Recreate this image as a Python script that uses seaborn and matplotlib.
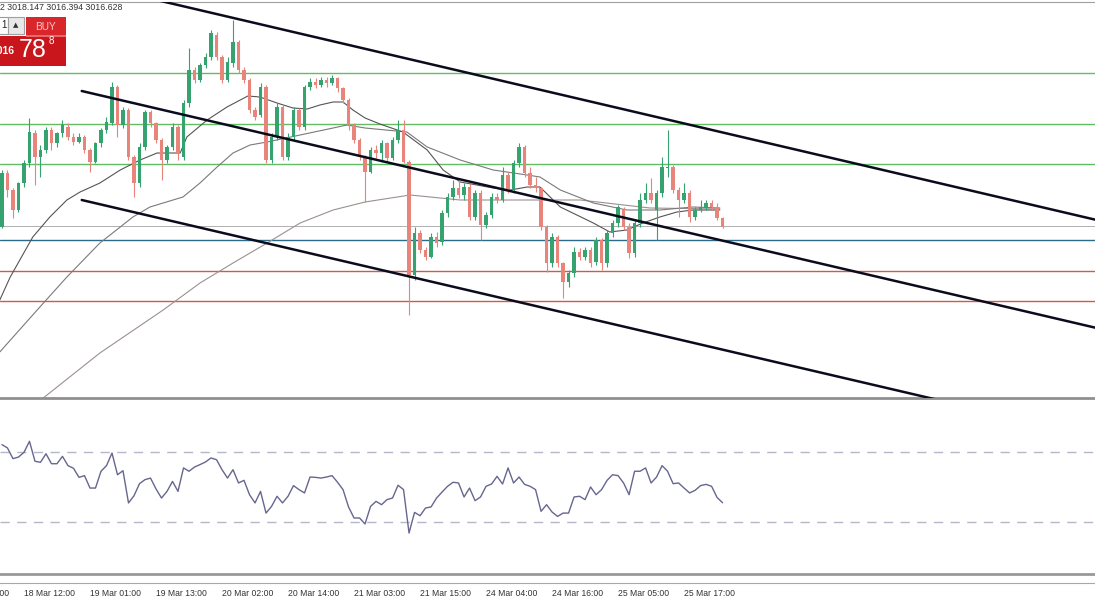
import matplotlib
matplotlib.use('Agg')
import matplotlib.pyplot as plt
import matplotlib.transforms as mtransforms
from matplotlib.patches import Rectangle
import numpy as np
import seaborn as sns

sns.set_style('white')
plt.rcParams['font.family'] = ['Liberation Sans', 'DejaVu Sans']

# H1 candles, plotted on bar index like the terminal does
opens = [3016.5, 3021.9, 3020.2, 3018.2, 3020.9, 3022.9, 3025.9, 3023.5, 3024.2, 3026.2,
         3024.9, 3025.9, 3026.5, 3025.5, 3025.0, 3025.5, 3024.2, 3023.0, 3024.9, 3026.2,
         3026.9, 3030.5, 3026.7, 3028.2, 3023.5, 3020.9, 3024.5, 3028.0, 3026.9, 3025.2,
         3023.2, 3024.5, 3026.5, 3023.5, 3028.9, 3032.2, 3031.2, 3032.7, 3033.5, 3035.7,
         3033.5, 3031.2, 3032.9, 3035.0, 3032.2, 3031.2, 3028.2, 3027.7, 3030.5, 3023.2,
         3025.5, 3028.5, 3023.5, 3025.5, 3028.2, 3026.5, 3030.5, 3031.0, 3030.7, 3031.2,
         3030.9, 3031.4, 3030.4, 3029.2, 3026.7, 3025.2, 3023.5, 3022.0, 3024.2, 3023.9,
         3024.9, 3023.4, 3025.2, 3026.2, 3023.0, 3011.7, 3015.9, 3014.2, 3013.5, 3015.5,
         3015.0, 3017.9, 3019.5, 3020.4, 3019.7, 3020.5, 3017.5, 3019.9, 3016.7, 3017.7,
         3019.5, 3019.2, 3021.7, 3020.2, 3022.9, 3024.5, 3021.9, 3020.7, 3020.4, 3016.5,
         3012.9, 3015.5, 3012.9, 3011.0, 3011.9, 3014.0, 3013.5, 3014.2, 3013.0, 3015.2,
         3012.9, 3015.9, 3016.9, 3018.2, 3016.5, 3013.9, 3016.9, 3019.2, 3019.9, 3018.2,
         3019.9, 3022.4, 3022.5, 3020.2, 3019.2, 3019.9, 3017.5, 3018.2, 3018.5, 3018.9,
         3018.5, 3017.4]
highs = [3022.2, 3022.2, 3020.4, 3021.0, 3023.2, 3027.4, 3026.2, 3024.7, 3026.5, 3026.5,
         3026.0, 3027.2, 3026.9, 3025.9, 3025.9, 3025.7, 3024.4, 3025.0, 3026.4, 3027.5,
         3031.0, 3030.7, 3028.5, 3028.4, 3023.7, 3024.9, 3028.2, 3028.2, 3027.0, 3025.4,
         3024.7, 3026.9, 3026.7, 3029.2, 3034.4, 3032.5, 3032.9, 3033.9, 3036.2, 3036.0,
         3033.7, 3033.5, 3037.2, 3035.2, 3032.5, 3031.4, 3028.5, 3030.9, 3030.7, 3025.9,
         3028.9, 3028.7, 3025.9, 3028.5, 3028.4, 3030.7, 3031.4, 3031.4, 3031.5, 3031.5,
         3031.7, 3031.5, 3030.5, 3029.4, 3026.9, 3025.4, 3023.7, 3024.5, 3024.7, 3025.2,
         3025.0, 3025.5, 3027.2, 3027.2, 3023.2, 3016.5, 3016.2, 3014.5, 3015.9, 3016.0,
         3018.2, 3019.9, 3021.2, 3021.2, 3020.9, 3020.9, 3020.2, 3020.2, 3018.0, 3019.9,
         3019.9, 3022.5, 3022.0, 3023.2, 3024.9, 3024.7, 3022.5, 3021.5, 3020.5, 3016.7,
         3015.9, 3015.7, 3013.0, 3012.2, 3014.5, 3014.4, 3014.5, 3014.5, 3015.5, 3015.4,
         3016.2, 3017.2, 3018.7, 3018.5, 3016.9, 3017.2, 3019.9, 3020.9, 3021.4, 3020.2,
         3023.5, 3026.2, 3022.7, 3020.5, 3020.9, 3020.2, 3018.5, 3019.2, 3019.2, 3019.2,
         3018.9, 3017.5]
lows = [3016.4, 3019.5, 3017.4, 3018.0, 3020.5, 3022.5, 3020.7, 3021.5, 3023.9, 3024.2,
        3024.5, 3025.5, 3025.2, 3024.7, 3024.9, 3023.9, 3022.0, 3022.9, 3024.5, 3025.9,
        3026.7, 3025.5, 3026.4, 3023.2, 3019.5, 3020.5, 3024.2, 3026.5, 3024.9, 3021.2,
        3022.9, 3024.2, 3023.2, 3023.2, 3028.5, 3030.9, 3031.0, 3032.4, 3033.2, 3033.2,
        3030.9, 3031.0, 3032.5, 3031.9, 3030.9, 3027.9, 3027.2, 3027.5, 3022.9, 3022.9,
        3025.2, 3023.2, 3023.2, 3025.2, 3026.2, 3026.2, 3030.2, 3030.4, 3030.5, 3030.5,
        3030.7, 3030.0, 3028.9, 3026.2, 3024.9, 3023.2, 3019.0, 3021.9, 3023.4, 3023.0,
        3023.0, 3023.2, 3024.9, 3022.9, 3007.7, 3011.2, 3013.9, 3013.2, 3013.4, 3014.5,
        3014.7, 3017.5, 3019.2, 3019.4, 3019.2, 3017.2, 3017.2, 3015.2, 3016.4, 3017.4,
        3018.9, 3019.0, 3019.9, 3019.9, 3022.5, 3021.5, 3020.4, 3020.0, 3016.2, 3012.0,
        3012.5, 3012.5, 3009.4, 3010.5, 3011.5, 3013.2, 3013.2, 3012.5, 3012.7, 3012.2,
        3012.5, 3015.5, 3016.5, 3016.2, 3013.4, 3013.5, 3016.5, 3018.9, 3018.9, 3015.2,
        3019.5, 3021.5, 3019.9, 3017.5, 3018.9, 3017.0, 3017.2, 3018.0, 3018.2, 3018.2,
        3017.2, 3016.4]
closes = [3021.9, 3020.2, 3018.2, 3020.9, 3022.9, 3026.0, 3023.5, 3024.2, 3026.2, 3024.9,
          3025.9, 3026.7, 3025.5, 3025.0, 3025.5, 3024.2, 3023.0, 3024.9, 3026.2, 3027.0,
          3030.5, 3026.7, 3028.2, 3023.5, 3020.9, 3024.5, 3028.0, 3026.9, 3025.2, 3023.2,
          3024.5, 3026.5, 3023.9, 3028.9, 3032.2, 3031.2, 3032.7, 3033.5, 3035.9, 3033.5,
          3031.2, 3033.0, 3035.0, 3032.2, 3031.2, 3028.2, 3027.5, 3030.5, 3023.2, 3025.5,
          3028.5, 3023.5, 3025.5, 3028.2, 3026.5, 3030.5, 3031.0, 3030.7, 3031.2, 3030.9,
          3031.4, 3030.4, 3029.2, 3026.7, 3025.2, 3023.5, 3022.0, 3024.2, 3023.9, 3024.9,
          3023.4, 3025.2, 3026.2, 3023.0, 3011.7, 3015.9, 3014.2, 3013.5, 3015.5, 3014.9,
          3017.9, 3019.5, 3020.4, 3019.7, 3020.5, 3017.5, 3019.9, 3016.7, 3017.7, 3019.5,
          3019.2, 3021.7, 3020.2, 3022.9, 3024.5, 3021.9, 3020.7, 3020.4, 3016.5, 3012.9,
          3015.5, 3012.9, 3011.0, 3011.9, 3014.0, 3013.5, 3014.2, 3012.9, 3015.2, 3012.9,
          3015.9, 3016.9, 3018.5, 3016.5, 3013.9, 3016.9, 3019.2, 3019.9, 3019.2, 3019.9,
          3022.5, 3022.5, 3020.2, 3019.2, 3019.9, 3017.5, 3018.2, 3018.5, 3018.9, 3018.5,
          3017.4, 3016.5]

rsi = [74.2, 72.3, 66.2, 67.1, 69.8, 76.1, 64.7, 64.1, 69.0, 63.3,
       63.3, 67.5, 62.2, 60.7, 55.5, 56.5, 49.4, 49.4, 59.0, 62.2,
       69.4, 57.0, 59.3, 40.9, 45.0, 51.9, 54.2, 55.1, 48.9, 43.7,
       47.5, 53.2, 47.5, 60.9, 59.0, 61.4, 62.8, 64.3, 66.6, 65.6,
       59.9, 55.1, 59.9, 52.3, 53.8, 45.6, 40.9, 47.5, 35.1, 38.9,
       44.7, 40.9, 44.7, 50.8, 48.5, 46.6, 55.7, 55.5, 55.1, 55.7,
       56.5, 52.7, 48.5, 38.6, 32.3, 32.3, 28.9, 38.9, 41.8, 39.9,
       42.8, 43.7, 51.0, 48.5, 23.7, 35.5, 33.6, 38.0, 38.6, 43.7,
       47.1, 50.4, 52.7, 52.3, 44.3, 49.4, 42.2, 44.3, 50.4, 51.7,
       56.1, 51.7, 60.9, 52.3, 55.7, 51.5, 50.4, 48.5, 36.1, 39.9,
       35.7, 33.2, 35.1, 35.1, 44.3, 44.7, 42.8, 50.0, 45.6, 48.5,
       53.8, 57.0, 56.5, 52.3, 45.6, 59.0, 59.0, 60.9, 52.3, 55.7,
       62.2, 59.0, 51.9, 52.3, 49.4, 46.6, 48.1, 50.8, 51.5, 50.4,
       44.0, 41.0]

# moving averages (their history starts before the window)
ma_a_bar = [-0.4, 1.5, 5.6, 8.7, 11.8, 14.2, 17.8, 21.5, 25.1, 28.2, 32.4, 33.6, 37.3,
            40.9, 44.7, 46.9, 50.0, 52.9, 55.5, 57.8, 60.2, 62.0, 63.8, 66.0, 68.7, 72.9,
            77.3, 80.2, 83.3, 89.3, 92.4, 95.5, 97.8, 101.5, 104.5, 107.5, 110.5, 113.6,
            116.5, 119.6, 122.7, 125.6, 130.5]
ma_a = [3009.2, 3011.5, 3015.5, 3017.5, 3019.2, 3020.0, 3020.9, 3022.2, 3023.2, 3023.9,
        3023.9, 3025.5, 3027.2, 3028.5, 3029.6, 3029.5, 3028.9, 3028.4, 3028.3, 3028.7,
        3029.0, 3029.0, 3028.2, 3027.4, 3026.8, 3026.0, 3024.2, 3022.2, 3021.0, 3020.4,
        3020.2, 3020.5, 3020.5, 3018.5, 3017.7, 3016.9, 3016.0, 3016.2, 3016.9, 3017.5,
        3018.0, 3018.2, 3018.2]
ma_b_bar = [-0.4, 6.4, 11.8, 17.8, 23.8, 26.9, 32.9, 36.0, 39.1, 42.0, 45.1, 48.2, 54.2,
            60.2, 62.7, 66.0, 73.6, 77.3, 83.3, 89.3, 95.5, 97.8, 101.5, 107.5, 113.6,
            119.6, 125.6, 130.5]
ma_b = [3004.0, 3008.2, 3011.5, 3014.9, 3017.5, 3018.5, 3019.5, 3020.9, 3022.5, 3023.9,
        3024.7, 3025.0, 3025.7, 3026.4, 3026.7, 3026.4, 3026.0, 3024.5, 3023.2, 3022.2,
        3021.7, 3021.5, 3020.2, 3018.9, 3018.2, 3018.2, 3018.5, 3018.4]
ma_c_bar = [3.3, 7.5, 17.8, 29.3, 36.0, 42.0, 48.2, 54.2, 60.2, 66.0, 74.2, 83.3, 95.5,
            105.1, 117.8, 130.5]
ma_c = [2997.7, 2999.4, 3003.9, 3008.2, 3010.9, 3012.9, 3014.9, 3016.9, 3018.2, 3019.0,
        3019.7, 3019.2, 3019.2, 3019.2, 3018.4, 3018.3]

# price channel (two anchor points per line: bar, price)
chan_bars = [[25, 199], [14.5, 199], [14.5, 199]]
chan_prices = [[3039.6, 3017.2], [3030.1, 3006.4], [3019.2, 2995.5]]

green_levels = [3031.9, 3026.8, 3022.8]
red_levels = [3012.1, 3009.1]
blue_level = 3015.2
bid_level = 3016.6

tick_bars = [4, 16, 28, 40, 52, 64, 76, 88, 100, 112, 124]
tick_labels = ['18 Mar 12:00', '19 Mar 01:00', '19 Mar 13:00', '20 Mar 02:00', '20 Mar 14:00',
               '21 Mar 03:00', '21 Mar 15:00', '24 Mar 04:00', '24 Mar 16:00', '25 Mar 05:00',
               '25 Mar 17:00']

W, H = 1095, 600
fig = plt.figure(figsize=(W / 100, H / 100), dpi=100)
ax = fig.add_axes([0, 1 - 398 / H, 1, 396 / H])
ax_rsi = fig.add_axes([0, 1 - 574 / H, 1, 174 / H], sharex=ax)
ax_time = fig.add_axes([0, 1 - 583 / H, 1, 0.0005], sharex=ax)

bars = np.arange(len(closes))
o = np.array(opens)
c = np.array(closes)
up = c >= o
body_col = np.where(up, '#36a270', '#e8847a')

# levels
for lvl in green_levels:
    ax.axhline(lvl, color='#62bd62', lw=1.0, zorder=1)
for lvl in red_levels:
    ax.axhline(lvl, color='#d5574b', lw=1.0, zorder=1)
ax.axhline(blue_level, color='#2b6a8a', lw=1.0, zorder=1)
ax.axhline(bid_level, color='#b0b0b0', lw=0.7, zorder=1)

# moving averages
sns.lineplot(x=ma_c_bar, y=ma_c, ax=ax, color='#9c9090', linewidth=0.8, zorder=2)
sns.lineplot(x=ma_b_bar, y=ma_b, ax=ax, color='#7a7a7a', linewidth=0.8, zorder=2)
sns.lineplot(x=ma_a_bar, y=ma_a, ax=ax, color='#555555', linewidth=0.8, zorder=2)

# candles
ax.vlines(bars, lows, highs, colors=body_col, lw=0.8, zorder=3)
body_h = np.where(np.abs(c - o) < 0.08, 0.08, c - o)
ax.bar(bars, body_h, bottom=o, width=0.64, color=body_col, linewidth=0, zorder=3)

# channel
for xs, ys in zip(chan_bars, chan_prices):
    ax.plot(xs, ys, color='#0b0b1e', lw=1.8, zorder=4)

ax.set_xlim(-0.36, 198.7)
ax.set_ylim(2999.4, 3039.0)
ax.tick_params(left=False, bottom=False, labelleft=False, labelbottom=False)
for s in ['left', 'right']:
    ax.spines[s].set_visible(False)
ax.spines['top'].set_color('#a0a0a0')
ax.spines['top'].set_linewidth(0.8)
ax.spines['bottom'].set_color('#8f8f8f')
ax.spines['bottom'].set_linewidth(2.0)

# RSI panel
ax_rsi.axhline(70, color='#b7b7c9', lw=1.0, dashes=(6.7, 5.3))
ax_rsi.axhline(30, color='#b7b7c9', lw=1.0, dashes=(6.7, 5.3))
sns.lineplot(x=bars, y=rsi, ax=ax_rsi, color='#66668f', linewidth=1.0)
ax_rsi.set_ylim(0.3, 99.7)
ax_rsi.tick_params(left=False, bottom=False, labelleft=False, labelbottom=False)
for s in ['left', 'right', 'top']:
    ax_rsi.spines[s].set_visible(False)
ax_rsi.spines['bottom'].set_color('#999999')
ax_rsi.spines['bottom'].set_linewidth(2.0)
ax_rsi.set_xlabel('')
ax_rsi.set_ylabel('')
ax.set_xlabel('')
ax.set_ylabel('')

# time axis
ax_time.set_facecolor('none')
for s in ['left', 'right', 'top']:
    ax_time.spines[s].set_visible(False)
ax_time.spines['bottom'].set_color('#a8a8a8')
ax_time.spines['bottom'].set_linewidth(0.8)
ax_time.set_yticks([])
ax_time.set_xticks(tick_bars)
ax_time.set_xticklabels(tick_labels)
ax_time.tick_params(axis='x', length=3, width=0.8, color='#888888', pad=1.0,
                    labelsize=6.2, labelcolor='#333333')
for lbl in ax_time.get_xticklabels():
    lbl.set_horizontalalignment('left')
off = mtransforms.offset_copy(ax_time.get_xaxis_transform(), fig=fig, y=-4.0, units='points')
ax_time.text(-8, 0, '18 Mar 00:00', transform=off, ha='left', va='top', fontsize=6.2,
             color='#333333', clip_on=False)


# terminal widgets drawn in pixel units
def px_rect(x, y, w, h, **kw):
    fig.add_artist(Rectangle((x / W, 1 - (y + h) / H), w / W, h / H,
                             transform=fig.transFigure, **kw))


def px_text(x, y, s, **kw):
    fig.text(x / W, 1 - y / H, s, **kw)


px_text(0, 8, '2 3018.147 3016.394 3016.628', fontsize=6.3, color='#333333', va='center')
px_rect(-2, 17, 10, 17, facecolor='white', edgecolor='#9a9a9a', lw=0.8)
px_text(1, 25.5, '1', fontsize=7, color='#222222', va='center')
px_rect(8, 17, 16, 17, facecolor='#e8e8e8', edgecolor='#a0a0a0', lw=0.8)
px_text(16, 25.5, '▲', fontsize=5, color='#333333', va='center', ha='center',
        family=['DejaVu Sans'])
px_rect(26, 17, 40, 19, facecolor='#d9262b', edgecolor='none')
px_rect(0, 36, 66, 30, facecolor='#c8161c', edgecolor='none')
px_rect(26, 35.5, 40, 1, facecolor='#e66a6a', edgecolor='none')
px_text(45, 26.5, 'BUY', fontsize=7.3, color='#f7c9c9', va='center', ha='center')
px_text(15, 51, '3016', fontsize=7.5, fontweight='bold', color='white', va='center', ha='right')
px_text(19, 50, '78', fontsize=18, color='white', va='center', ha='left')
px_text(49, 41, '8', fontsize=7, color='white', va='center', ha='left')

fig.savefig('out.png', dpi=100)
